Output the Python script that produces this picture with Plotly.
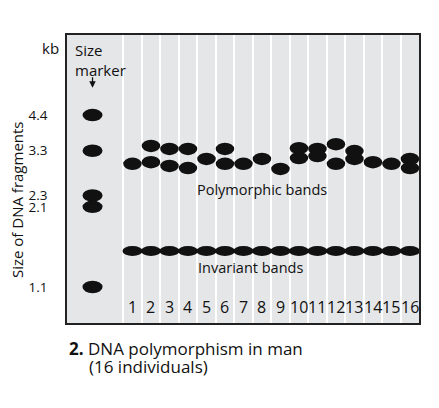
import math
import plotly.graph_objects as go

# ---------------- data ----------------
lanes = list(range(1, 17))
lane_labels = [str(i) for i in lanes]

marker_kb = [4.4, 3.3, 2.3, 2.1, 1.1]
marker_tick_text = ["4.4", "3.3", "2.3", "2.1", "1.1"]

poly_lane = [1, 2, 2, 3, 3, 4, 4, 5, 6, 6, 7, 8, 9, 10, 10, 11, 11, 12, 12, 13, 13, 14, 15, 16, 16]
poly_kb = [2.97, 3.43, 3.01, 3.35, 2.92, 3.35, 2.87, 3.09, 3.35, 2.97, 2.97, 3.09, 2.85,
           3.37, 3.11, 3.35, 3.16, 3.48, 2.97, 3.29, 3.09, 3.01, 2.97, 3.09, 2.87]

invariant_kb = [1.47] * 16

# ---------------- style ----------------
FONT = "Open Sans"
INK = "#111111"
BG = "#e5e6e8"
MARKER_LANE_X = -1.16
Y_RANGE_KB = (0.823, 8.39)
PLOT_H = 288  # px height of plotting area
PX_PER_LN = PLOT_H / (math.log(Y_RANGE_KB[1]) - math.log(Y_RANGE_KB[0]))

fig = go.Figure()

# hidden scatter traces carrying the data (for hover)
fig.add_trace(go.Scatter(x=[MARKER_LANE_X] * len(marker_kb), y=marker_kb, mode="markers",
                         marker=dict(size=14, opacity=0), name="Size marker", hoverinfo="y"))
fig.add_trace(go.Scatter(x=poly_lane, y=poly_kb, mode="markers",
                         marker=dict(size=14, opacity=0), name="Polymorphic bands", hoverinfo="x+y"))
fig.add_trace(go.Scatter(x=lanes, y=invariant_kb, mode="markers",
                         marker=dict(size=14, opacity=0), name="Invariant bands", hoverinfo="x+y"))

shapes = []

def ellipse(x, y, w, h):
    f = math.exp(h / 2 / PX_PER_LN)
    return dict(type="circle", xref="x", yref="y", xsizemode="pixel", ysizemode="scaled",
                xanchor=x, x0=-w / 2, x1=w / 2, y0=y / f, y1=y * f,
                fillcolor=INK, line=dict(width=0), layer="above")

for v in marker_kb:
    shapes.append(ellipse(MARKER_LANE_X, v, 20, 12.5))
for ln, v in zip(poly_lane, poly_kb):
    shapes.append(ellipse(ln, v, 18.5, 12.5))
for ln, v in zip(lanes, invariant_kb):
    shapes.append(ellipse(ln, v, 20, 10))

# outer page border line on the right
shapes.append(dict(type="line", xref="paper", yref="paper", x0=1.054, x1=1.054, y0=-0.3, y1=1.13,
                   line=dict(color="#444444", width=2.5)))

def note(text, x, y, size, **kw):
    d = dict(text=text, x=x, y=y, xref="paper", yref="paper", showarrow=False,
             xanchor="center", yanchor="middle", font=dict(size=size, color=INK, family=FONT))
    d.update(kw)
    return d

annotations = [
    note("kb", -0.048, 0.955, 15),
    note("Size<br>marker", 0.017, 0.99, 15, xanchor="left", yanchor="top", align="left"),
    dict(text="", x=MARKER_LANE_X, y=0.817, xref="x", yref="paper", showarrow=True,
         ax=0, ay=-12, arrowhead=2, arrowsize=1, arrowwidth=1.3, arrowcolor=INK),
    note("Polymorphic bands", 0.554, 0.462, 14.5),
    note("Invariant bands", 0.52, 0.191, 14.5),
    note("Size of DNA fragments", -0.142, 0.427, 15, textangle=-90),
    note("<b>2.</b> DNA polymorphism in man", 0.0, -0.09, 17, xanchor="left"),
    note("(16 individuals)", 0.058, -0.152, 17, xanchor="left"),
]

# lane numbers, written inside the bottom of the panel under each lane
for ln, lab in zip(lanes, lane_labels):
    annotations.append(dict(text=lab, x=ln, y=0.055, xref="x", yref="paper", showarrow=False,
                            xanchor="center", yanchor="middle",
                            font=dict(size=16, color=INK, family=FONT)))

# the page body has an 8px margin: compensate so the figure lands where the reference does
fig.update_layout(
    width=431, height=400,
    margin=dict(l=59, r=20, t=27, b=85),
    paper_bgcolor="white", plot_bgcolor=BG,
    showlegend=False,
    shapes=shapes,
    annotations=annotations,
    font=dict(family=FONT, color=INK),
)

fig.update_xaxes(
    range=[-2.54, 16.49], showgrid=False, zeroline=False,
    showticklabels=False, ticks="",
    minor=dict(tickvals=[i + 0.5 for i in range(0, 16)], showgrid=True, gridcolor="white", gridwidth=1.5),
    showline=True, mirror=True, linecolor="#222222", linewidth=1.5,
)
fig.update_yaxes(
    type="log", range=[math.log10(Y_RANGE_KB[0]), math.log10(Y_RANGE_KB[1])],
    showgrid=False, zeroline=False,
    tickvals=marker_kb, ticktext=marker_tick_text, ticks="", ticklabelstandoff=15,
    tickfont=dict(size=13.5, color=INK, family=FONT),
    showline=True, mirror=True, linecolor="#222222", linewidth=1.5,
)

fig.write_html("out.html")
